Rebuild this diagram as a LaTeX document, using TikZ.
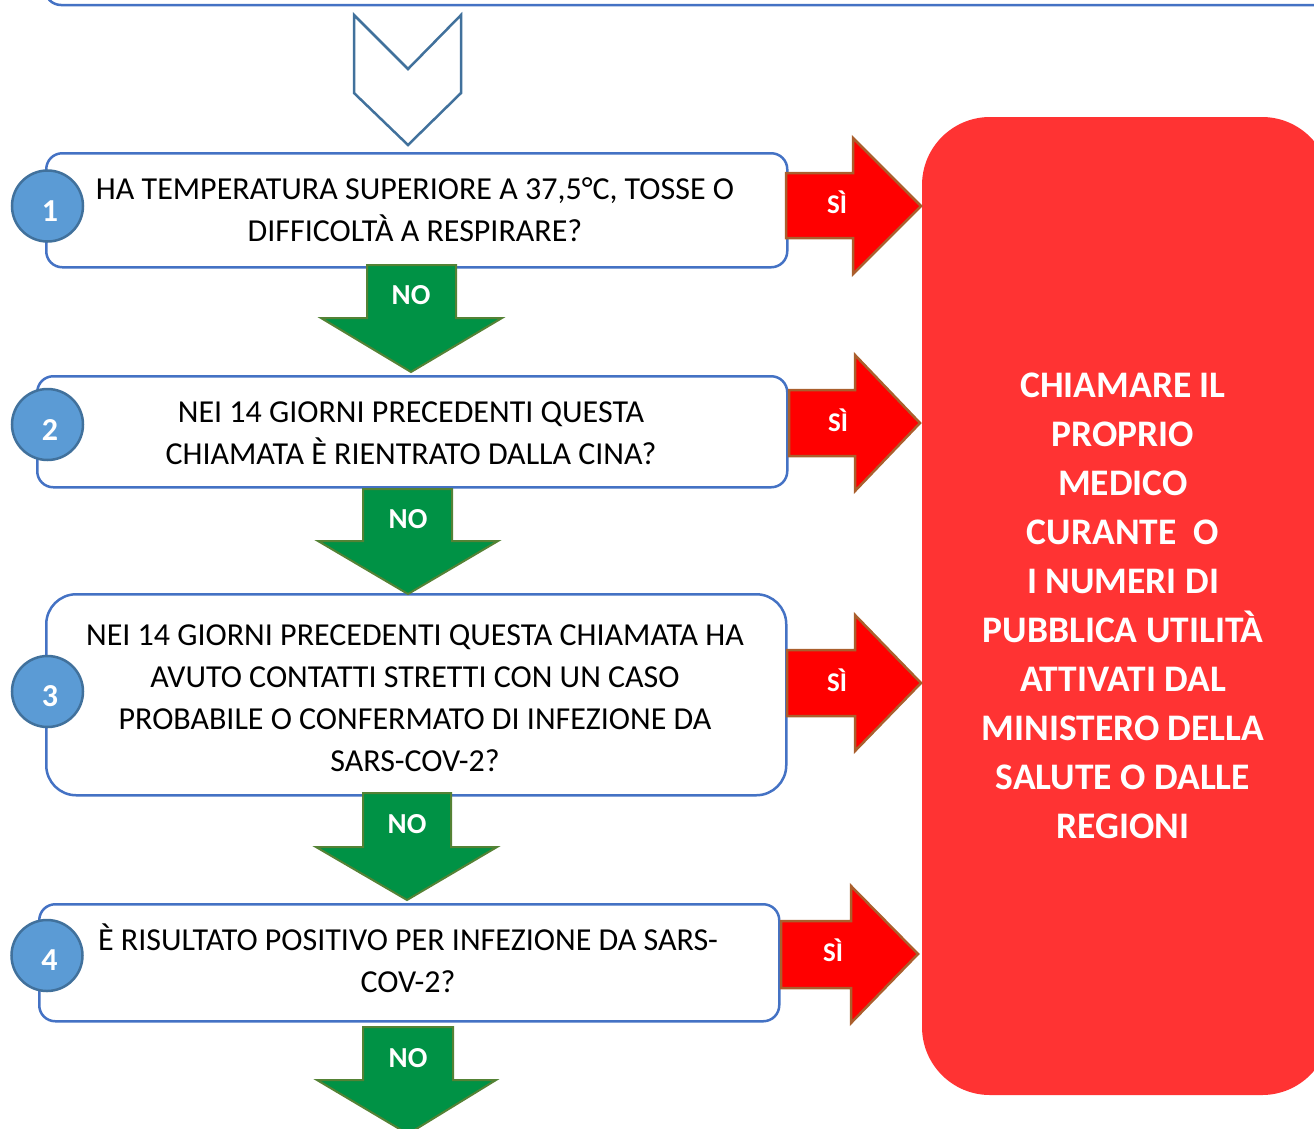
\documentclass[tikz,border=0pt]{standalone}
\usepackage{fontspec}
\setmainfont{Carlito}
\definecolor{boxblue}{RGB}{68,114,196}
\definecolor{circfill}{RGB}{91,155,213}
\definecolor{circline}{RGB}{65,113,156}
\definecolor{greenfill}{RGB}{0,146,69}
\definecolor{greenline}{RGB}{84,130,53}
\definecolor{redfill}{RGB}{255,0,0}
\definecolor{redline}{RGB}{170,95,45}
\definecolor{bigred}{RGB}{255,51,51}
\begin{document}
\begin{tikzpicture}[x=1pt,y=-1pt,
  qbox/.style={draw=boxblue, line width=2.5pt, rounded corners=16pt, fill=white, inner sep=0pt},
  numcirc/.style={circle, draw=circline, fill=circfill, line width=2.5pt, minimum size=71pt, inner sep=0pt},
  numtxt/.style={text=white, inner sep=0pt, font=\bfseries\fontsize{32}{38}\selectfont},
  qtext/.style={align=center, inner sep=0pt, font=\fontsize{32}{42}\selectfont},
  noarrow/.style={fill=greenfill, draw=greenline, line width=2pt, line join=miter},
  siarrow/.style={fill=redfill, draw=redline, line width=2.5pt, line join=miter},
  nolbl/.style={text=white, inner sep=0pt, font=\bfseries\fontsize{29}{34}\selectfont},
  silbl/.style={text=white, inner sep=0pt, font=\bfseries\fontsize{27}{32}\selectfont},
  bigtext/.style={align=center, text=white, inner sep=0pt, font=\bfseries\fontsize{37.5}{49}\selectfont}
]
\useasboundingbox (0,0) rectangle (1314,1128);
\clip (0,0) rectangle (1314,1128);

% top box (continuing above the picture)
\draw[qbox] (45,-60) rectangle (1360,5);

% chevron
\draw[draw=circline, line width=2.5pt, line join=miter] (354,15) -- (408,69) -- (461,15) -- (461,93) -- (408,145) -- (354,93) -- cycle;

% big red box
\fill[bigred, rounded corners=68pt] (922,117) rectangle (1330,1095);
\node[bigtext] (answer) at (1123,606) {CHIAMARE IL\\PROPRIO\\MEDICO\\CURANTE\ \ O\\I NUMERI DI\\PUBBLICA UTILITÀ\\ATTIVATI DAL\\MINISTERO DELLA\\SALUTE O DALLE\\REGIONI};

% question boxes
\node[qbox, anchor=north west, minimum width=741pt, minimum height=114pt] (b1) at (45,152) {};
\node[qbox, anchor=north west, minimum width=750pt, minimum height=111pt] (b2) at (36,375) {};
\node[qbox, anchor=north west, minimum width=740pt, minimum height=201pt, rounded corners=30pt] (b3) at (45,593) {};
\node[qbox, anchor=north west, minimum width=740pt, minimum height=117pt] (b4) at (38,903) {};

\node[qtext] (t1) at (415,210) {HA TEMPERATURA SUPERIORE A 37,5°C, TOSSE O\\DIFFICOLTÀ A RESPIRARE?};
\node[qtext] (t2) at (411,433) {NEI 14 GIORNI PRECEDENTI QUESTA\\CHIAMATA È RIENTRATO DALLA CINA?};
\node[qtext] (t3) at (415,698) {NEI 14 GIORNI PRECEDENTI QUESTA CHIAMATA HA\\AVUTO CONTATTI STRETTI CON UN CASO\\PROBABILE O CONFERMATO DI INFEZIONE DA\\SARS-COV-2?};
\node[qtext] (t4) at (408,958) {È RISULTATO POSITIVO PER INFEZIONE DA SARS-\\COV-2?};

% number circles
\node[numcirc] (c1) at (47.5,206) {};
\node[numcirc] (c2) at (47.5,424.5) {};
\node[numcirc] (c3) at (47.5,691.5) {};
\node[numcirc] (c4) at (47,955.5) {};
\node[numtxt] (n1) at ([xshift=2.5pt,yshift=-5pt]c1.center) {1};
\node[numtxt] (n2) at ([xshift=2.5pt,yshift=-5pt]c2.center) {2};
\node[numtxt] (n3) at ([xshift=2.5pt,yshift=-5pt]c3.center) {3};
\node[numtxt] (n4) at ([xshift=2.5pt,yshift=-5pt]c4.center) {4};

% NO arrows
\draw[noarrow] (367,265) -- (456,265) -- (456,318) -- (502,318) -- (411,372) -- (321,318) -- (367,318) -- cycle;
\draw[noarrow] (363,489) -- (452,489) -- (452,541) -- (498,541) -- (408,594) -- (318,541) -- (363,541) -- cycle;
\draw[noarrow] (363,793) -- (451,793) -- (451,847) -- (497,847) -- (407,900) -- (316,847) -- (363,847) -- cycle;
\draw[noarrow] (363,1027) -- (453,1027) -- (453,1080) -- (496,1080) -- (408,1134) -- (317,1080) -- (363,1080) -- cycle;
\node[nolbl] (no1) at (411,295) {NO};
\node[nolbl] (no2) at (408,519) {NO};
\node[nolbl] (no3) at (407,824) {NO};
\node[nolbl] (no4) at (408,1058) {NO};

% SI arrows
\draw[siarrow] (786,173) -- (853,173) -- (853,138) -- (921,206) -- (853,274) -- (853,238) -- (786,238) -- cycle;
\draw[siarrow] (789,390) -- (855,390) -- (855,355) -- (920,423) -- (855,491) -- (855,456) -- (789,456) -- cycle;
\draw[siarrow] (787,650) -- (855,650) -- (855,615) -- (921,683) -- (855,751) -- (855,716) -- (787,716) -- cycle;
\draw[siarrow] (781,921) -- (851,921) -- (851,886) -- (918,954) -- (851,1023) -- (851,988) -- (781,988) -- cycle;
\node[silbl] (si1) at (837,202) {SÌ};
\node[silbl] (si2) at (838,420) {SÌ};
\node[silbl] (si3) at (837,680) {SÌ};
\node[silbl] (si4) at (833,950) {SÌ};
\end{tikzpicture}
\end{document}
